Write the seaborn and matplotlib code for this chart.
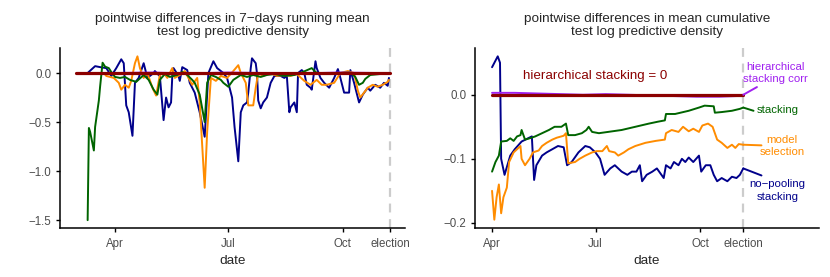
import numpy as np
import pandas as pd
import matplotlib
matplotlib.use("Agg")
import matplotlib.pyplot as plt
import seaborn as sns

# x values are days after 1 April 2016 (election = 8 Nov 2016 = day 221)
tick_days = [0, 91, 183, 221]
tick_labels = ["Apr", "Jul", "Oct", "election"]
election_day = 221

# ---------------- left panel: 7-days running mean ----------------
left_blue_day = [-22, -16, -12, -7, -3, 1, 5, 7, 9, 11, 14, 16, 19, 23, 26, 31, 32, 35, 36, 39,
                 41, 43, 45, 46, 47, 51, 52, 54, 58, 60, 64, 68, 72, 75, 79, 82, 87, 90, 94, 96,
                 99, 101, 103, 106, 107, 109, 110, 113, 114, 115, 117, 119, 122, 125, 128, 133,
                 136, 138, 140, 141, 144, 146, 147, 150, 152, 154, 157, 158, 161, 162, 165, 168,
                 172, 174, 176, 179, 181, 184, 188, 189, 192, 195, 196, 199, 203, 205, 209, 213,
                 216, 219, 220]
left_blue_val = [0.0, 0.07, 0.06, 0.05, -0.03, 0.05, 0.14, 0.1, -0.33, -0.4, -0.64, -0.1, -0.05,
                 0.1, -0.05, 0.0, 0.02, -0.02, -0.03, -0.48, -0.25, -0.35, -0.3, -0.03, 0.05,
                 -0.03, -0.08, 0.06, 0.03, -0.1, -0.2, -0.4, -0.65, 0.0, 0.12, 0.05, 0.0, -0.05,
                 -0.25, -0.55, -0.9, -0.4, -0.33, -0.3, -0.2, 0.05, 0.15, 0.1, 0.0, -0.28, -0.36,
                 -0.3, -0.25, -0.1, -0.03, -0.03, -0.05, -0.03, -0.4, -0.35, -0.3, -0.4, 0.0, 0.03,
                 0.0, -0.12, -0.15, -0.17, 0.12, 0.05, -0.05, -0.1, -0.15, -0.1, -0.05, 0.04,
                 -0.05, -0.2, -0.2, 0.03, -0.1, -0.25, -0.3, -0.22, -0.15, -0.18, -0.12, -0.15,
                 -0.1, -0.13, -0.05]

left_orange_day = [-9, -7, -1, 3, 5, 8, 11, 13, 16, 18, 20, 23, 26, 30, 33, 36, 39, 42, 46, 48,
                   52, 56, 62, 66, 68, 72, 74, 77, 81, 85, 90, 95, 99, 101, 105, 107, 111, 113,
                   115, 119, 125, 130, 136, 141, 146, 152, 157, 162, 166, 170, 176, 181, 187,
                   192, 195, 197, 200, 203, 207, 211, 215, 219, 220]
left_orange_val = [0.0, -0.03, -0.05, -0.1, -0.17, -0.12, -0.15, -0.08, 0.1, 0.17, 0.05, -0.05,
                   0.0, -0.15, -0.23, -0.02, 0.0, -0.05, 0.05, -0.05, -0.02, 0.02, -0.12, -0.05,
                   -0.3, -1.17, -0.6, -0.05, -0.08, -0.03, -0.05, 0.02, 0.08, 0.0, -0.1, -0.33,
                   -0.33, -0.15, 0.0, -0.03, 0.0, -0.03, -0.02, -0.03, -0.01, -0.08, -0.12, -0.07,
                   -0.12, -0.12, -0.1, 0.0, 0.02, 0.0, -0.18, -0.25, -0.2, -0.15, -0.12, -0.14,
                   -0.12, -0.09, -0.07]

left_green_day = [-22, -21, -20, -17, -16, -13, -12, -10, -8, -5, -3, 0, 4, 8, 12, 17, 23, 27,
                  31, 34, 36, 40, 44, 50, 54, 58, 62, 64, 68, 72, 74, 77, 81, 85, 87, 91, 95,
                  101, 106, 111, 117, 122, 128, 136, 144, 149, 158, 161, 165, 176, 189, 193,
                  196, 199, 201, 205, 213, 220]
left_green_val = [-1.5, -0.56, -0.6, -0.79, -0.55, -0.28, -0.14, 0.105, 0.065, 0.05, 0.01,
                  -0.04, -0.05, -0.04, -0.07, -0.09, -0.02, -0.07, -0.17, -0.22, -0.07, -0.01,
                  -0.04, -0.02, 0.01, -0.02, -0.07, -0.1, -0.22, -0.5, -0.1, -0.02, -0.04, -0.07,
                  -0.1, -0.14, -0.07, -0.02, -0.04, -0.02, -0.04, -0.02, -0.01, -0.03, -0.02, 0.0,
                  0.05, 0.01, -0.01, 0.0, 0.005, -0.04, -0.12, -0.1, -0.06, -0.02, -0.01, 0.0]

left_purple_day = [-22, -15, 0, 30, 60, 90, 120, 150, 180, 210, 220]
left_purple_val = [-0.01, -0.005, 0.0, 0.005, -0.005, 0.005, 0.0, -0.005, 0.005, 0.0, 0.0]

left_red_day = [-31, 221]
left_red_val = [0.0, 0.0]

left_yticks = [0.0, -0.5, -1.0, -1.5]
left_yticklabels = ["0.0", "\u22120.5", "\u22121.0", "\u22121.5"]

# ---------------- right panel: mean cumulative ----------------
right_blue_day = [0, 5, 7, 8, 11, 16, 20, 26, 35, 37, 39, 44, 48, 53, 58, 63, 66, 70, 76, 82,
                  86, 91, 95, 99, 104, 108, 114, 119, 123, 127, 130, 132, 136, 141, 145, 151,
                  153, 157, 160, 164, 167, 170, 173, 177, 182, 184, 188, 192, 195, 198, 202,
                  207, 211, 215, 218, 221]
right_blue_val = [0.043, 0.06, 0.05, -0.1, -0.125, -0.095, -0.085, -0.073, -0.065, -0.133,
                  -0.11, -0.095, -0.09, -0.085, -0.08, -0.082, -0.11, -0.105, -0.09, -0.08,
                  -0.082, -0.09, -0.1, -0.125, -0.115, -0.11, -0.12, -0.125, -0.12, -0.12, -0.11,
                  -0.135, -0.125, -0.12, -0.115, -0.13, -0.11, -0.115, -0.105, -0.11, -0.1,
                  -0.105, -0.098, -0.105, -0.095, -0.12, -0.11, -0.11, -0.125, -0.135, -0.13,
                  -0.135, -0.128, -0.13, -0.125, -0.115]

right_orange_day = [0, 2, 4, 6, 8, 10, 13, 15, 19, 22, 25, 26, 29, 33, 36, 41, 44, 48, 53, 57,
                    63, 65, 67, 73, 77, 82, 88, 92, 97, 101, 103, 108, 111, 116, 120, 126, 135,
                    144, 152, 153, 158, 164, 168, 173, 177, 182, 185, 190, 194, 198, 202, 207,
                    211, 214, 217, 221]
right_orange_val = [-0.15, -0.195, -0.16, -0.14, -0.185, -0.16, -0.145, -0.105, -0.09, -0.085,
                    -0.08, -0.1, -0.11, -0.1, -0.09, -0.087, -0.08, -0.075, -0.07, -0.067,
                    -0.064, -0.06, -0.107, -0.105, -0.1, -0.095, -0.09, -0.088, -0.088, -0.08,
                    -0.088, -0.09, -0.095, -0.09, -0.085, -0.08, -0.075, -0.072, -0.07, -0.06,
                    -0.055, -0.058, -0.05, -0.057, -0.053, -0.058, -0.048, -0.045, -0.05, -0.07,
                    -0.075, -0.083, -0.078, -0.083, -0.077, -0.078]

right_green_day = [0, 3, 6, 8, 13, 16, 19, 22, 25, 26, 29, 33, 38, 44, 50, 55, 61, 65, 67, 73,
                   79, 83, 85, 88, 94, 102, 114, 126, 138, 146, 152, 153, 161, 173, 182, 187,
                   195, 196, 202, 211, 218, 221]
right_green_val = [-0.12, -0.105, -0.095, -0.073, -0.072, -0.068, -0.072, -0.065, -0.063,
                   -0.055, -0.07, -0.068, -0.065, -0.06, -0.055, -0.05, -0.05, -0.045, -0.063,
                   -0.063, -0.06, -0.055, -0.05, -0.058, -0.06, -0.058, -0.055, -0.05, -0.045,
                   -0.042, -0.04, -0.03, -0.03, -0.025, -0.02, -0.017, -0.018, -0.028, -0.027,
                   -0.025, -0.022, -0.02]

right_purple_day = [0, 20, 40, 60, 80, 100, 120, 140, 160, 180, 200, 215, 221]
right_purple_val = [0.003, 0.003, 0.002, 0.001, 0.0, 0.001, 0.0, -0.001, -0.002, -0.003,
                    -0.003, -0.002, 0.0]

right_red_day = [0, 221]
right_red_val = [0.0, 0.0]

right_yticks = [0.0, -0.1, -0.2]
right_yticklabels = ["0.0", "\u22120.1", "\u22120.2"]

# direct labels of the right panel (text, colour, where the leader line ends, where text sits)
label_text = ["hierarchical\nstacking corr", "stacking", "model\nselection", "no\u2212pooling\nstacking"]
label_series = ["hier_corr", "stacking", "model_sel", "nopool"]
label_end_day = [233, 230, 237, 237]
label_end_val = [0.012, -0.025, -0.079, -0.126]
label_text_day = [249, 251, 255, 251]
label_text_val = [0.034, -0.0235, -0.08, -0.15]

palette = {"nopool": "#00008B", "model_sel": "#FF8C00", "stacking": "#006400",
           "hier_corr": "#A020F0", "hier": "#8B0000"}
draw_order = ["nopool", "model_sel", "stacking", "hier_corr", "hier"]


def long_frame(parts):
    frames = []
    for name, d, v in parts:
        frames.append(pd.DataFrame({"day": d, "value": v, "model": name}))
    return pd.concat(frames, ignore_index=True)


left_df = long_frame([
    ("nopool", left_blue_day, left_blue_val),
    ("model_sel", left_orange_day, left_orange_val),
    ("stacking", left_green_day, left_green_val),
    ("hier_corr", left_purple_day, left_purple_val),
    ("hier", left_red_day, left_red_val),
])
right_df = long_frame([
    ("nopool", right_blue_day, right_blue_val),
    ("model_sel", right_orange_day, right_orange_val),
    ("stacking", right_green_day, right_green_val),
    ("hier_corr", right_purple_day, right_purple_val),
    ("hier", right_red_day, right_red_val),
])

sns.set_style("ticks")
plt.rcParams['font.family'] = ['Liberation Sans', 'DejaVu Sans']

fig = plt.figure(figsize=(8.3, 2.77), dpi=100)
ax1 = fig.add_axes([60 / 830, 1 - 228 / 277, 345 / 830, 180 / 277])
ax2 = fig.add_axes([475 / 830, 1 - 228 / 277, 344 / 830, 180 / 277])


def draw_panel(ax, df, title, xlim, ylim, yticks, yticklabels):
    ax.axvline(election_day, color="#CCCCCC", lw=1.6, ls=(0, (4, 3)), zorder=0)
    for name in draw_order:
        sub = df[df["model"] == name]
        sns.lineplot(data=sub, x="day", y="value", ax=ax, color=palette[name],
                     lw=2.3 if name == "hier" else 1.4, estimator=None, sort=False,
                     legend=False)
    ax.set_xlim(*xlim)
    ax.set_ylim(*ylim)
    ax.set_xticks(tick_days)
    ax.set_xticklabels(tick_labels)
    ax.set_yticks(yticks)
    ax.set_yticklabels(yticklabels)
    ax.set_xlabel("date", fontsize=9.7, labelpad=4)
    ax.set_ylabel("")
    ax.set_title(title, fontsize=9.7, linespacing=1.2, pad=9)
    ax.tick_params(axis="both", labelsize=8.3, colors="black", length=3, width=1.0)
    ax.tick_params(axis="x", pad=4)
    ax.tick_params(axis="y", pad=3)
    for lab in ax.get_xticklabels() + ax.get_yticklabels():
        lab.set_color("#4D4D4D")
    for s in ["left", "bottom"]:
        ax.spines[s].set_linewidth(1.1)
        ax.spines[s].set_color("black")
    sns.despine(ax=ax)
    ax.grid(False)


draw_panel(ax1, left_df, "pointwise differences in 7\u2212days running mean\ntest log predictive density",
           (-44.2, 232.9), (-1.58, 0.255), left_yticks, left_yticklabels)
draw_panel(ax2, right_df, "pointwise differences in mean cumulative\ntest log predictive density",
           (-15, 287.6), (-0.208, 0.073), right_yticks, right_yticklabels)

# direct labels on the right panel
ax2.text(90.6, 0.0286, "hierarchical stacking = 0", color=palette["hier"], fontsize=9.6,
         ha="center", va="center")
last_points = {"nopool": (right_blue_day[-1], right_blue_val[-1]),
               "model_sel": (right_orange_day[-1], right_orange_val[-1]),
               "stacking": (right_green_day[-1], right_green_val[-1]),
               "hier_corr": (right_purple_day[-1], right_purple_val[-1])}
for txt, key, ed, ev, td, tv in zip(label_text, label_series, label_end_day, label_end_val,
                                    label_text_day, label_text_val):
    x0, y0 = last_points[key]
    ax2.plot([x0, ed], [y0, ev], color=palette[key], lw=1.4, clip_on=False)
    ax2.text(td, tv, txt, color=palette[key], fontsize=8.2, ha="center", va="center",
             linespacing=1.35)

fig.savefig("out.png", dpi=100)
